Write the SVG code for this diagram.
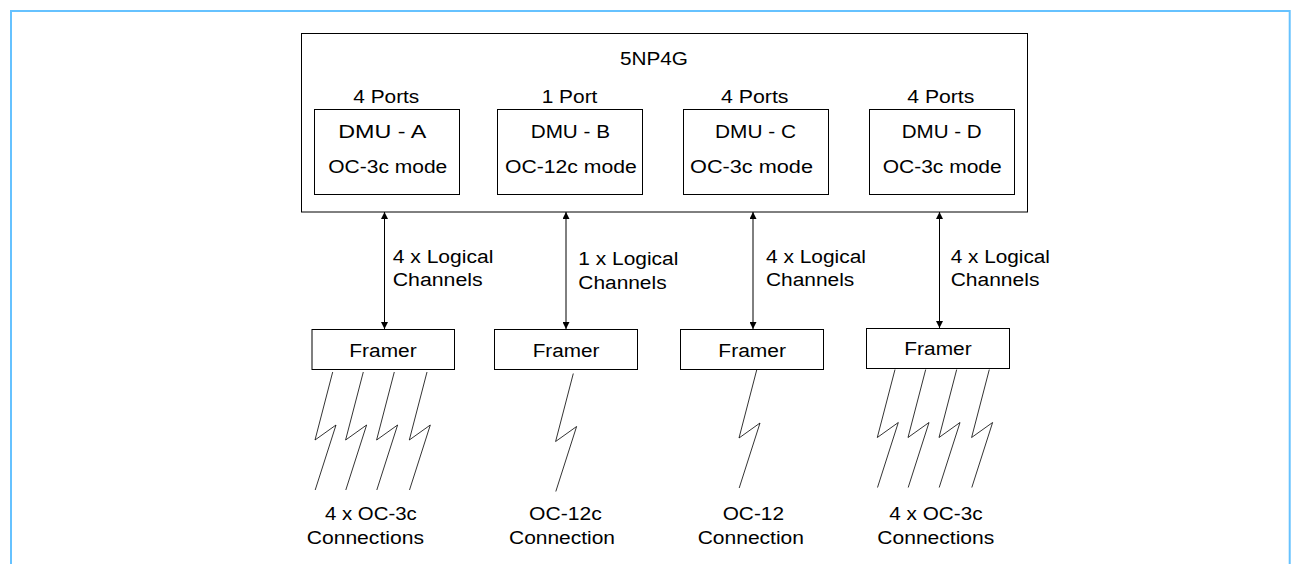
<svg xmlns="http://www.w3.org/2000/svg" width="1291" height="564" viewBox="0 0 1291 564">
<style>
text{font-family:"Liberation Sans",Arial,Helvetica,sans-serif;font-size:18px;fill:#000}
.box{fill:#fff;stroke:#000;stroke-width:1}
.bolt{fill:none;stroke:#000;stroke-width:0.8;stroke-linejoin:miter}
.arr{stroke:#000;stroke-width:1;marker-start:url(#ah);marker-end:url(#ah)}
</style>
<defs>
<marker id="ah" viewBox="0 0 10 10" refX="10" refY="5" markerWidth="7" markerHeight="7" markerUnits="userSpaceOnUse" orient="auto-start-reverse">
<path d="M0,0 L10,5 L0,10 z" fill="#000"/>
</marker>
<path id="bolt" class="bolt" d="M0,0 L-17.7,68 L3.3,53 L-17.5,118"/>
</defs>
<rect width="1291" height="564" fill="#fff"/>
<path d="M11,564 V11 H1289.7 V564" fill="none" stroke="#66c2ff" stroke-width="2"/>

<g id="np4g">
<rect class="box" x="301.5" y="33.5" width="726" height="178.5"/>
<text x="620" y="65" textLength="68" lengthAdjust="spacingAndGlyphs">5NP4G</text>
</g>

<g id="dmu-a">
<text x="353.3" y="102.7" textLength="66" lengthAdjust="spacingAndGlyphs">4 Ports</text>
<rect class="box" x="314.5" y="109.5" width="145" height="85"/>
<text x="338.3" y="137.7" textLength="88" lengthAdjust="spacingAndGlyphs">DMU - A</text>
<text x="328.3" y="173" textLength="119" lengthAdjust="spacingAndGlyphs">OC-3c mode</text>
</g>
<g id="dmu-b">
<text x="541.7" y="102.7" textLength="55.7" lengthAdjust="spacingAndGlyphs">1 Port</text>
<rect class="box" x="497.5" y="109.5" width="145" height="85"/>
<text x="530.7" y="137.7" textLength="79.3" lengthAdjust="spacingAndGlyphs">DMU - B</text>
<text x="505" y="173" textLength="131.7" lengthAdjust="spacingAndGlyphs">OC-12c mode</text>
</g>
<g id="dmu-c">
<text x="721" y="102.7" textLength="67.5" lengthAdjust="spacingAndGlyphs">4 Ports</text>
<rect class="box" x="683.5" y="109.5" width="145" height="85"/>
<text x="715" y="137.7" textLength="81" lengthAdjust="spacingAndGlyphs">DMU - C</text>
<text x="690" y="173" textLength="123" lengthAdjust="spacingAndGlyphs">OC-3c mode</text>
</g>
<g id="dmu-d">
<text x="907.3" y="102.7" textLength="67" lengthAdjust="spacingAndGlyphs">4 Ports</text>
<rect class="box" x="869.5" y="109.5" width="145" height="85"/>
<text x="901.7" y="137.7" textLength="80" lengthAdjust="spacingAndGlyphs">DMU - D</text>
<text x="882.7" y="173" textLength="119" lengthAdjust="spacingAndGlyphs">OC-3c mode</text>
</g>

<g id="connectors">
<line class="arr" x1="384.5" y1="212" x2="384.5" y2="329"/>
<line class="arr" x1="566" y1="212" x2="566" y2="329"/>
<line class="arr" x1="753" y1="212" x2="753" y2="329"/>
<line class="arr" x1="939.5" y1="212" x2="939.5" y2="328"/>
<text x="392.7" y="262.7" textLength="100.7" lengthAdjust="spacingAndGlyphs">4 x Logical</text>
<text x="392.7" y="286" textLength="90" lengthAdjust="spacingAndGlyphs">Channels</text>
<text x="578.3" y="265" textLength="100" lengthAdjust="spacingAndGlyphs">1 x Logical</text>
<text x="578.3" y="289" textLength="88.3" lengthAdjust="spacingAndGlyphs">Channels</text>
<text x="766" y="262.7" textLength="100" lengthAdjust="spacingAndGlyphs">4 x Logical</text>
<text x="766" y="286" textLength="88.3" lengthAdjust="spacingAndGlyphs">Channels</text>
<text x="950.7" y="262.7" textLength="99.3" lengthAdjust="spacingAndGlyphs">4 x Logical</text>
<text x="950.7" y="286" textLength="88.7" lengthAdjust="spacingAndGlyphs">Channels</text>
</g>

<g id="framer-a">
<rect class="box" x="312" y="329.5" width="142.5" height="40"/>
<text x="349.3" y="356.7" textLength="67.3" lengthAdjust="spacingAndGlyphs">Framer</text>
</g>
<g id="framer-b">
<rect class="box" x="494.5" y="329.5" width="143" height="40"/>
<text x="532.7" y="356.7" textLength="66.7" lengthAdjust="spacingAndGlyphs">Framer</text>
</g>
<g id="framer-c">
<rect class="box" x="680.5" y="329.5" width="143" height="40"/>
<text x="718.3" y="356.7" textLength="67.7" lengthAdjust="spacingAndGlyphs">Framer</text>
</g>
<g id="framer-d">
<rect class="box" x="866.5" y="328.5" width="143" height="40"/>
<text x="904.3" y="355" textLength="67.3" lengthAdjust="spacingAndGlyphs">Framer</text>
</g>

<g id="links-a">
<use href="#bolt" x="332.7" y="372"/>
<use href="#bolt" x="363.3" y="372"/>
<use href="#bolt" x="394.3" y="372"/>
<use href="#bolt" x="427" y="372"/>
<text x="325" y="520.3" textLength="91.7" lengthAdjust="spacingAndGlyphs">4 x OC-3c</text>
<text x="306.7" y="544" textLength="117.3" lengthAdjust="spacingAndGlyphs">Connections</text>
</g>
<g id="links-b">
<use href="#bolt" x="573.3" y="373.5"/>
<text x="529" y="520.3" textLength="72.7" lengthAdjust="spacingAndGlyphs">OC-12c</text>
<text x="509" y="544" textLength="106" lengthAdjust="spacingAndGlyphs">Connection</text>
</g>
<g id="links-c">
<use href="#bolt" x="756.7" y="370"/>
<text x="722.7" y="520.3" textLength="61.3" lengthAdjust="spacingAndGlyphs">OC-12</text>
<text x="697.7" y="544" textLength="106.3" lengthAdjust="spacingAndGlyphs">Connection</text>
</g>
<g id="links-d">
<use href="#bolt" x="895" y="369.5"/>
<use href="#bolt" x="925.7" y="369.5"/>
<use href="#bolt" x="956.7" y="369.5"/>
<use href="#bolt" x="989.3" y="369.5"/>
<text x="889.3" y="520.3" textLength="93.3" lengthAdjust="spacingAndGlyphs">4 x OC-3c</text>
<text x="877.3" y="544" textLength="117" lengthAdjust="spacingAndGlyphs">Connections</text>
</g>
</svg>
